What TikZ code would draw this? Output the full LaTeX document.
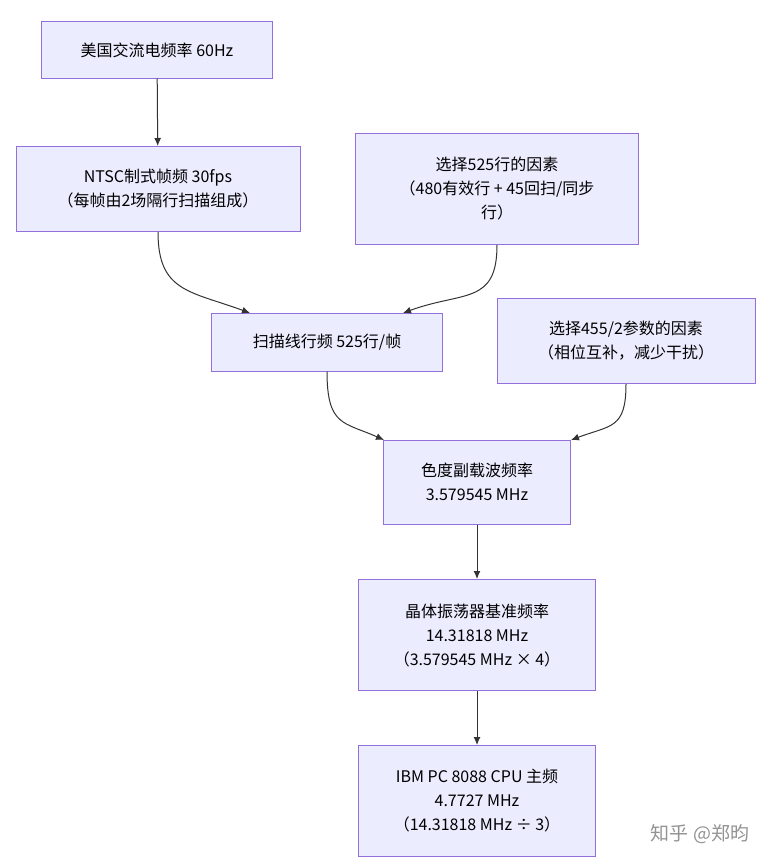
\documentclass[tikz,border=0pt]{standalone}
\usetikzlibrary{arrows.meta}
\usepackage{fontspec}
\setmainfont{Noto Sans CJK SC}
\begin{document}
\begin{tikzpicture}[x=1pt,y=-1pt,
 box/.style={draw={rgb,255:red,147;green,112;blue,219}, fill={rgb,255:red,236;green,236;blue,255}, line width=1pt, align=center, font=\fontsize{16}{24}\selectfont, inner sep=0pt},
 arr/.style={draw={rgb,255:red,51;green,51;blue,51}, line width=1pt, -{Latex[length=8pt,width=7pt]}}]
\useasboundingbox (0,0) rectangle (771,867);
\node[box, minimum width=231, minimum height=56] (a) at (157,50) {美国交流电频率 60Hz};
\node[box, minimum width=284, minimum height=85] (b) at (158,189) {NTSC制式帧频 30fps\\（每帧由2场隔行扫描组成）};
\node[box, minimum width=283, minimum height=111] (c) at (497,189) {选择525行的因素\\（480有效行 + 45回扫/同步\\行）};
\node[box, minimum width=231, minimum height=58] (d) at (327,342) {扫描线行频 525行/帧};
\node[box, minimum width=258, minimum height=85] (e) at (626,341) {选择455/2参数的因素\\（相位互补，减少干扰）};
\node[box, minimum width=187, minimum height=84] (f) at (477,482) {色度副载波频率\\3.579545 MHz};
\node[box, minimum width=237, minimum height=111] (g) at (477,635) {晶体振荡器基准频率\\14.31818 MHz\\（3.579545 MHz × 4）};
\node[box, minimum width=237, minimum height=111] (h) at (477,801) {IBM PC 8088 CPU 主频\\4.7727 MHz\\（14.31818 MHz ÷ 3）};
\node[text=gray!85, font=\fontsize{19}{22}\selectfont] (w) at (700,834) {知乎 @郑昀};
\draw[arr] (a) -- (b);
\coordinate (d1) at (250,313); \coordinate (d2) at (403,313);
\coordinate (f1) at (384,440); \coordinate (f2) at (571,440);
\draw[arr] (b.south) .. controls +(0,60) and +(-60,-22) .. (d1);
\draw[arr] (c.south) .. controls +(0,60) and +(60,-22) .. (d2);
\draw[arr] (d.south) .. controls +(0,55) and +(-40,-18) .. (f1);
\draw[arr] (e.south) .. controls +(0,45) and +(40,-15) .. (f2);
\draw[arr] (f) -- (g);
\draw[arr] (g) -- (h);
\end{tikzpicture}
\end{document}
